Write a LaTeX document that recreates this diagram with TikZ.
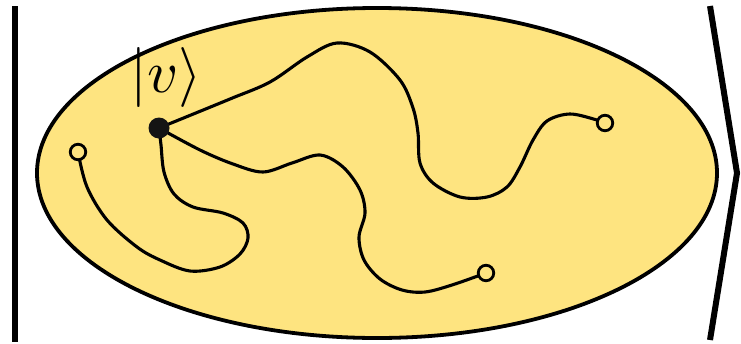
\documentclass[tikz,border=0pt]{standalone}
\usepackage{graphicx}
\usetikzlibrary{shapes.geometric}
\definecolor{blobyellow}{RGB}{254,228,128}
\begin{document}
\begin{tikzpicture}[x=1pt,y=-1pt,
  path/.style={line width=3.1pt, line cap=round, line join=round},
  endcircle/.style={circle, draw=black, fill=blobyellow, line width=2.8pt, minimum size=15.5pt, inner sep=0pt},
  vertexdot/.style={circle, fill=black!92, minimum size=21pt, inner sep=0pt},
  bar/.style={line width=6pt}]
\useasboundingbox (0,0) rectangle (741,343);
% space
\node[ellipse, draw=black, fill=blobyellow, line width=3.8pt, minimum width=680pt, minimum height=330pt, inner sep=0pt] (blob) at (377,173) {};
% ket brackets
\coordinate (lbtop) at (15,6);
\coordinate (lbbot) at (15,342);
\draw[bar] (lbtop) -- (lbbot);
\coordinate (rbtop) at (710,6);
\coordinate (rbtip) at (737,173);
\coordinate (rbbot) at (710,340);
\draw[bar] (rbtop) -- (rbtip) -- (rbbot);
% positions
\coordinate (vpos) at (159,128);
\coordinate (e1pos) at (78,152);
\coordinate (e2pos) at (605,123);
\coordinate (e3pos) at (486,273);
% curves
\draw[path] plot[smooth, tension=0.55] coordinates {(vpos) (230,99) (270,82) (307,57) (337,43) (370,52) (400,80) (413,108) (418,133) (420,163) (433,183) (460,197) (487,197) (507,187) (520,167) (533,140) (547,121) (570,114) (597,120) (e2pos)};
\draw[path] plot[smooth, tension=0.55] coordinates {(vpos) (200,150) (233,164) (263,172) (292,163) (320,155) (343,167) (360,190) (365,213) (359,237) (364,260) (380,279) (402,290) (425,292) (452,285) (e3pos)};
\draw[path] plot[smooth, tension=0.55] coordinates {(vpos) (161,145) (164,172) (174,194) (193,207) (223,213) (243,223) (248,238) (240,254) (220,267) (190,271) (160,260) (137,247) (107,220) (87,187) (e1pos)};
% nodes
\node[vertexdot] (v) at (vpos) {};
\node[endcircle] (e1) at (e1pos) {};
\node[endcircle] (e2) at (e2pos) {};
\node[endcircle] (e3) at (e3pos) {};
\node[anchor=base, inner sep=0pt] (ket) at (166,92) {\scalebox{6}{$|v\rangle$}};
\end{tikzpicture}
\end{document}
